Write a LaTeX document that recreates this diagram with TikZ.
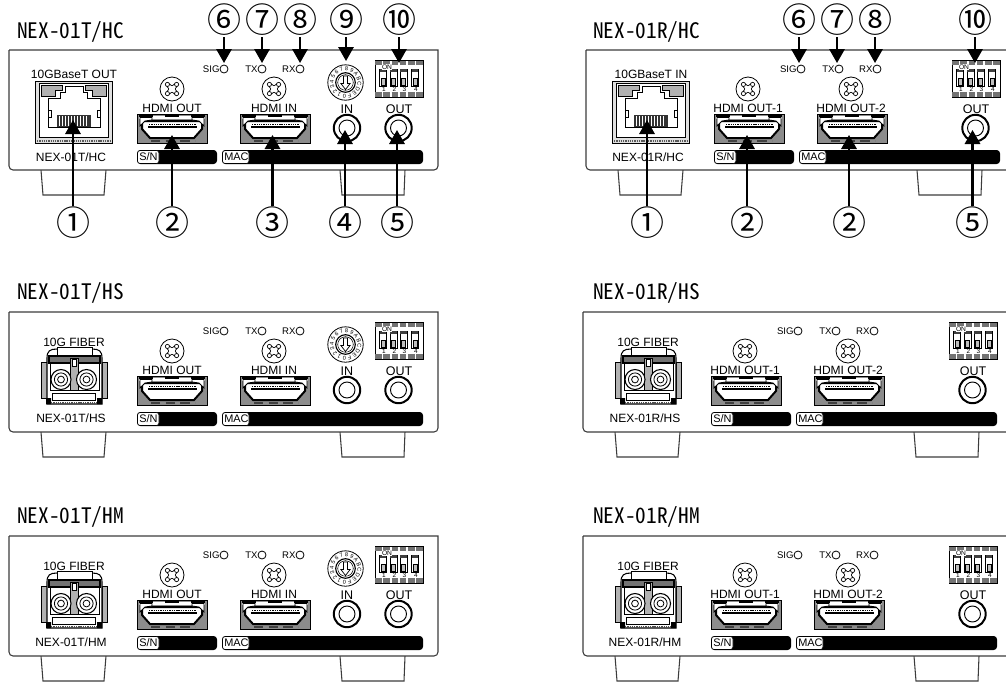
\documentclass[tikz,border=0pt]{standalone}
\usepackage{fontspec}
\usetikzlibrary{arrows.meta}
\setmainfont{Liberation Sans}
\newfontfamily\titlefont[RawFeature={+hwid}]{Noto Sans CJK JP}
\newfontfamily\numfont{Noto Sans CJK JP}
\definecolor{edge}{HTML}{3C3C3C}
\tikzset{
  lab/.style={font=\fontsize{9}{9}\selectfont,inner sep=0pt,text=black},
  tiny lab/.style={font=\fontsize{7.2}{7.2}\selectfont,inner sep=0pt,text=black},
  bar lab/.style={font=\fontsize{8.2}{8.2}\selectfont,inner sep=0pt,anchor=west,text=black},
  title lab/.style={font=\titlefont\fontsize{16}{16}\selectfont,inner sep=0pt,anchor=west,text=black},
  num lab/.style={font=\numfont\fontsize{25.5}{25.5}\selectfont,inner sep=0pt,text height=22.4pt,text depth=3.1pt,text=black},
  panelline/.style={draw=edge,line width=.8pt},
  thinline/.style={draw=black,line width=.45pt},
  callout/.style={draw=black,line width=1.6pt,-{Triangle[length=10.5pt,width=11.5pt]}},
  dial lab/.style={font=\fontsize{4.2}{4.2}\selectfont,inner sep=0pt,text=black},
}
% ---------- panel ----------
\newcommand\panelbox{%
  \draw[panelline] (41,170)--(43,195)--(104,195)--(106,170);
  \draw[panelline] (340,170)--(342,195)--(404,195)--(405,170);
  \draw[panelline,fill=white] (9,50)--(438,50) [rounded corners=3pt] --(438,170)--(9,170)--(9,110) [sharp corners] --(9,50);
}
\newcommand\bars[1]{%
  \fill[black,rounded corners=2.5pt] (137,150) rectangle (217,164);
  \draw[thinline,fill=white,rounded corners=2pt] (137.5,150.5) rectangle (159,163.5);
  \node[bar lab] (#1-sn) at (139,157) {S/N};
  \fill[black,rounded corners=2.5pt] (222,150) rectangle (423,164);
  \draw[thinline,fill=white,rounded corners=2pt] (222.5,150.5) rectangle (249,163.5);
  \node[bar lab] (#1-mac) at (224,157) {MAC};
}
\newcommand\leds[1]{%
  \foreach \t/\x in {SIG/224,TX/262,RX/300}{
    \draw[line width=.6pt,draw=black] (\x,69) circle (4);
    \node[tiny lab,anchor=east] (#1-\t) at (\x-4.2,69) {\t};
  }
}
% ---------- screw ----------
\newcommand\screw[2]{%
  \begin{scope}[shift={(#1,#2)}]
    \draw[line width=.6pt,draw=black] (0,0) circle (12);
    \foreach \sx/\sy in {1/1,-1/1,1/-1,-1/-1}{
      \draw[line width=.5pt] (\sx*4.6,\sy*4.6) circle (2.1);
    }
    \draw[line width=.5pt] (-2.8,-5.4) .. controls (0,-2.6) .. (2.8,-5.4);
    \draw[line width=.5pt] (-2.8,5.4) .. controls (0,2.6) .. (2.8,5.4);
    \draw[line width=.5pt] (-5.4,-2.8) .. controls (-2.6,0) .. (-5.4,2.8);
    \draw[line width=.5pt] (5.4,-2.8) .. controls (2.6,0) .. (5.4,2.8);
  \end{scope}
}
% ---------- HDMI connector: left edge, label text ----------
\newcommand\hdmi[4]{% name, left x, label, label centre
  \screw{#4}{89}
  \node[lab] (#1) at (#4,108.3) {#3};
  \begin{scope}[shift={(#2,114)}]
    \fill[black!45] (0,0) rectangle (70,29);
    \draw[thinline] (0,0) rectangle (70,29);
    \fill[white] (2,1.5) rectangle (68,5);
    \draw[line width=.8pt,draw=black] (2,2)--(16,2) (28,2)--(42,2) (54,2)--(68,2);
    \draw[line width=1.5pt,draw=black,fill=white] (5,7) -- (65,7) -- (65,15) -- (57,24) -- (13,24) -- (5,15) -- cycle;
    \draw[line width=.6pt,draw=black,fill=white] (3,3.5) -- (15,3.5) -- (15,6) -- (8,7) -- (3,12) -- cycle;
    \draw[line width=.6pt,draw=black,fill=white] (67,3.5) -- (55,3.5) -- (55,6) -- (62,7) -- (67,12) -- cycle;
    \draw[line width=1pt,draw=black,dash pattern=on 1pt off .7pt] (12,10.5) -- (59,10.5);
    \draw[line width=1pt,draw=black] (11,13) -- (60,13);
    \draw[line width=1.5pt,draw=black!75,dash pattern=on 7pt off 4pt] (14,26.5) -- (58,26.5);
  \end{scope}
}
% ---------- RJ45 ----------
\newcommand\rjport[3]{% name, top label, bottom label
  \node[lab] (#1-top) at (74,74) {#2};
  \node[lab] (#1-bot) at (71,157) {#3};
  \fill[black!12] (35,81) rectangle (112,143);
  \draw[thinline] (35,81) rectangle (112,143);
  \fill[white] (39,83) rectangle (108,137);
  \draw[line width=.65pt,draw=black] (39,83) rectangle (108,137);
  \draw[thinline,fill=black!30] (41,85)--(62,85)--(62,90)--(55,90)--(55,96)--(41,96)--cycle;
  \draw[thinline,fill=black!30] (106,85)--(85,85)--(85,90)--(92,90)--(92,96)--(106,96)--cycle;
  \draw[line width=.65pt,draw=black,fill=white] (48,98)--(60,98)--(60,92)--(65,92)--(65,86)--(83,86)--(83,92)--(87,92)--(87,98)--(100,98)--(100,127)--(48,127)--cycle;
  \draw[thinline] (48,110)--(51,110)--(51,117)--(48,117) (100,110)--(97,110)--(97,117)--(100,117);
  \fill[black!80] (57,115) rectangle (91,127);
  \foreach \x in {59.5,62.5,...,89}{ \draw[white,line width=.5pt] (\x,116)--(\x,126); }
  \draw[line width=2.2pt,draw=black!65,dash pattern=on 1pt off .7pt] (37,141)--(110,141);
}
% ---------- fibre cage ----------
\newcommand\fiber[2]{% name, bottom label
  \node[lab] (#1-top) at (74,80) {10G FIBER};
  \node[lab] (#1-bot) at (71,156) {#2};
  \fill[black!30] (41,100) rectangle (47,136);
  \fill[black!30] (102,100) rectangle (107,136);
  \draw[thinline] (41,100) rectangle (47,136) (102,100) rectangle (107,136);
  \draw[line width=.8pt,draw=black,fill=white] (47,96) .. controls (47,89) and (50,87) .. (57,87) -- (92,87) .. controls (99,87) and (102,89) .. (102,96) -- (102,142) -- (47,142) -- cycle;
  \draw[line width=.8pt,draw=black,fill=black!55] (49,94) rectangle (100,101);
  \draw[thinline,fill=white] (57,85) rectangle (92,93);
  \draw[line width=.7pt,draw=black,fill=white] (50,101) rectangle (71,128);
  \draw[line width=.7pt,draw=black,fill=white] (77,101) rectangle (99,128);
  \draw[line width=.7pt,draw=black,fill=black!30] (70,96) rectangle (78,128);
  \draw[thinline,fill=white] (72,97) rectangle (76,104);
  \foreach \x in {61,86.5}{
    \draw[line width=.8pt,draw=black,fill=white] (\x,117.5) circle (10);
    \draw[line width=.6pt,draw=black] (\x,117.5) circle (6.6);
    \draw[line width=.6pt,draw=black] (\x,117.5) circle (3.4);
  }
  \draw[thinline,fill=white] (52,131) rectangle (95,138);
  \fill[black] (46,136) rectangle (51,142) (97,136) rectangle (102,142);
  \draw[line width=1.5pt,draw=black!70,dash pattern=on 1pt off .7pt] (51,140.5)--(97,140.5);
}
% ---------- rotary dial ----------
\newcommand\rotary[1]{%
  \begin{scope}[shift={(345.5,82.5)}]
    \draw[line width=.6pt,draw=black] (0,0) circle (17.7);
    \foreach \c [count=\i from 0] in {0,1,2,3,4,5,6,7,8,9,A,B,C,D,E,F}{
      \pgfmathsetmacro\ang{265-22.5*\i}
      \pgfmathsetmacro\rr{\ang-90}
      \node[dial lab,rotate=\rr] (#1-d\i) at ({13.8*cos(\ang)},{-13.8*sin(\ang)}) {\c};
    }
    \draw[line width=.85pt,draw=black] (0,0) circle (9.8);
    \draw[line width=.4pt,draw=black] (0,0) circle (7.8);
    \draw[line width=.55pt,draw=black,fill=white] (-2,-6.5)--(2,-6.5)--(2,1)--(4.6,1)--(0,7)--(-4.6,1)--(-2,1)--cycle;
  \end{scope}
}
% ---------- dip switch ----------
\newcommand\dip[1]{%
  \fill[white] (375,60) rectangle (423,97);
  \draw[thinline] (375,60) rectangle (423,97);
  \draw[line width=3.2pt,draw=black!55,dash pattern=on 5pt off 1.2pt] (375,63)--(423,63);
  \draw[line width=3.2pt,draw=black!55,dash pattern=on 5pt off 1.2pt] (375,94.5)--(423,94.5);
  \foreach \x/\n in {383/1,393.5/2,403.5/3,415/4}{
    \draw[line width=.6pt,draw=black,fill=white] (\x-3.4,69) rectangle (\x+3.4,86.5);
    \fill[black!75] (\x-3.4,69) rectangle (\x+3.4,71.5);
    \draw[thinline,fill=black!25] (\x-2.2,78) rectangle (\x+2.2,85.5);
    \node[dial lab,font=\fontsize{4.8}{4.8}\selectfont] (#1-n\n) at (\x+1,89.3) {\n};
  }
  \node[dial lab,font=\fontsize{5}{5}\selectfont,fill=white,inner sep=.3pt] (#1-on) at (387,67) {ON};
}
% ---------- BNC ----------
\newcommand\bnc[4]{% name, x, text, text x
  \node[lab,font=\fontsize{9.4}{9.4}\selectfont] (#1) at (#4,109) {#3};
  \draw[line width=1.5pt,draw=black,fill=white] (#2,128) circle (13.2);
  \draw[line width=.7pt,draw=black] (#2,128) circle (8);
}
% ---------- whole devices ----------
\newcommand\devT[5]{% name, dy, fiber flag, bottom label, top label
  \begin{scope}[shift={(0,#2)}]
    \panelbox
    \ifnum#3=0 \rjport{#1}{#5}{#4}\else \fiber{#1}{#4}\fi
    \hdmi{#1-h1}{137}{HDMI OUT}{172}
    \hdmi{#1-h2}{240}{HDMI IN}{274}
    \bars{#1}\leds{#1}\rotary{#1}\dip{#1}
    \bnc{#1-in}{347}{IN}{347}
    \bnc{#1-out}{398.5}{OUT}{399}
  \end{scope}
}
\newcommand\devR[6]{% name, dx, dy, fiber flag, bottom label, top label
  \begin{scope}[shift={(#2,#3)}]
    \panelbox
    \ifnum#4=0 \rjport{#1}{#6}{#5}\else \fiber{#1}{#5}\fi
    \hdmi{#1-h1}{137}{HDMI OUT-1}{171}
    \hdmi{#1-h2}{240}{HDMI OUT-2}{274}
    \bars{#1}\leds{#1}\dip{#1}
    \bnc{#1-out}{398.5}{OUT}{399}
  \end{scope}
}
\newcommand\callout[5]{% name, glyph, x, y of number, y of target
  \node[num lab] (#1) at (#3,#4) {#2};
  \coordinate (#1-t) at (#3,#5);
  \draw[callout] (#1) -- (#1-t);
}
\begin{document}
\begin{tikzpicture}[x=.75pt,y=-.75pt]
  \useasboundingbox (0,0) rectangle (1006,682);
  \clip (0,0) rectangle (1006,682);
  \fill[white] (0,0) rectangle (1006,682);

  \node[title lab] (title-a) at (17,32) {NEX-01T/HC};
  \node[title lab] (title-b) at (593,32) {NEX-01R/HC};
  \node[title lab] (title-c) at (17,293) {NEX-01T/HS};
  \node[title lab] (title-d) at (593,293) {NEX-01R/HS};
  \node[title lab] (title-e) at (17,517) {NEX-01T/HM};
  \node[title lab] (title-f) at (593,517) {NEX-01R/HM};

  \devT{a}{0}{0}{NEX-01T/HC}{10GBaseT OUT}
  \devT{c}{262}{1}{NEX-01T/HS}{}
  \devT{e}{486}{1}{NEX-01T/HM}{}
  \devR{b}{577}{0}{0}{NEX-01R/HC}{10GBaseT IN}
  \devR{d}{574}{262}{1}{NEX-01R/HS}{}
  \devR{f}{574}{486}{1}{NEX-01R/HM}{}

  \callout{a1}{①}{73}{223}{120}
  \callout{a2}{②}{172}{223}{135}
  \callout{a3}{③}{272.5}{223}{135}
  \callout{a4}{④}{345}{223}{130}
  \callout{a5}{⑤}{397}{223}{130}
  \callout{a6}{⑥}{224}{20}{63}
  \callout{a7}{⑦}{262}{20}{63}
  \callout{a8}{⑧}{300}{20}{63}
  \callout{a9}{⑨}{346}{20}{61}
  \callout{a10}{⑩}{399}{20}{63}

  \callout{b1}{①}{647}{223}{120}
  \callout{b2}{②}{747}{223}{135}
  \callout{b3}{②}{849}{223}{135}
  \callout{b5}{⑤}{972.5}{223}{130}
  \callout{b6}{⑥}{799}{20}{63}
  \callout{b7}{⑦}{837}{20}{63}
  \callout{b8}{⑧}{875}{20}{63}
  \callout{b10}{⑩}{975}{20}{63}
\end{tikzpicture}
\end{document}
